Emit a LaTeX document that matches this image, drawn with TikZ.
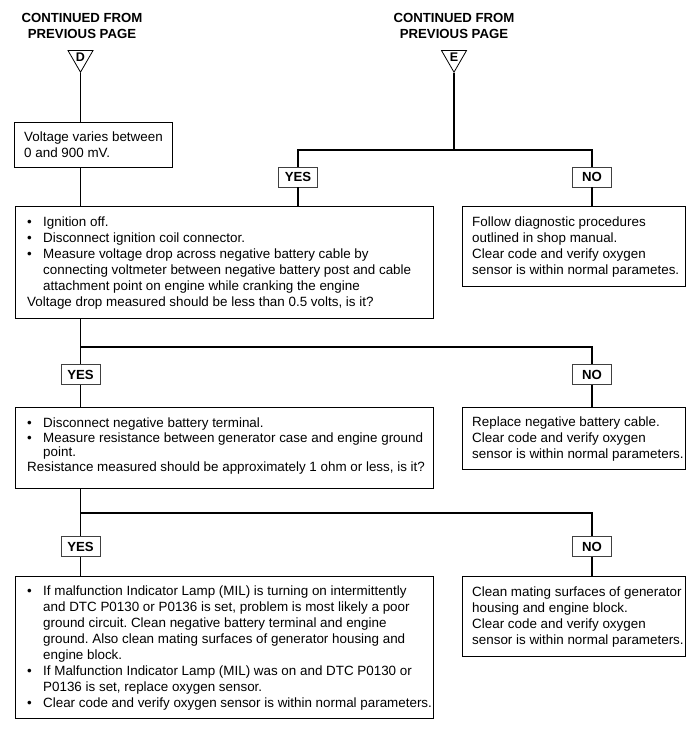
\documentclass[tikz,border=0pt]{standalone}
\usepackage{fontspec}
\setmainfont{Liberation Sans}
\usetikzlibrary{shapes.geometric}
\newcommand{\fcbul}{\makebox[16pt][l]{\textbullet}}
\newcommand{\fcind}{\hspace*{16pt}}
\frenchspacing
\begin{document}
\begin{tikzpicture}[x=1pt,y=-1pt,
  conn/.style={line width=1.2pt},
  box/.style={draw,line width=1.2pt,anchor=north west,inner sep=0pt},
  txt/.style={anchor=west,align=left,inner sep=0pt,font=\fontsize{13.4}{16}\selectfont},
  ttl/.style={align=center,inner sep=0pt,font=\fontsize{13.2}{16}\selectfont\bfseries},
  ans/.style={draw=black!75,line width=0.9pt,minimum width=39pt,minimum height=20pt,inner sep=0pt,font=\fontsize{13.2}{16}\selectfont\bfseries},
  tri/.style={draw,line width=0.8pt,regular polygon,regular polygon sides=3,shape border rotate=180,minimum size=29pt,inner sep=0pt,font=\fontsize{12.5}{13}\selectfont\bfseries}]
\path[use as bounding box] (0,0) rectangle (700,746);

% headers
\node[ttl] (hD) at (82,26) {CONTINUED FROM\\PREVIOUS PAGE};
\node[ttl] (hE) at (454,26) {CONTINUED FROM\\PREVIOUS PAGE};
\node[tri] (tD) at (80.5,57.7) {D};
\node[tri] (tE) at (454,57.7) {E};

% boxes
\node[box,minimum width=158pt,minimum height=45pt] (b1) at (14,122) {};
\node[txt] (t1) at ([xshift=10pt]b1.west) {Voltage varies between\\0 and 900 mV.};

\node[box,minimum width=418pt,minimum height=112pt] (b2) at (15,206) {};
\node[txt] (t2) at ([xshift=12pt]b2.west) {\fcbul Ignition off.\\
\fcbul Disconnect ignition coil connector.\\
\fcbul Measure voltage drop across negative battery cable by\\
\fcind connecting voltmeter between negative battery post and cable\\
\fcind attachment point on engine while cranking the engine\\
Voltage drop measured should be less than 0.5 volts, is it?};

\node[box,minimum width=223pt,minimum height=80pt] (b3) at (462,206) {};
\node[txt] (t3) at ([xshift=10pt]b3.west) {Follow diagnostic procedures\\
outlined in shop manual.\\
Clear code and verify oxygen\\
sensor is within normal parametes.};

\node[box,minimum width=418pt,minimum height=81pt] (b4) at (15,407) {};
\node[txt,font=\fontsize{13.4}{14.5}\selectfont] (t4) at ([xshift=12pt,yshift=2pt]b4.west) {\fcbul Disconnect negative battery terminal.\\
\fcbul Measure resistance between generator case and engine ground\\
\fcind point.\\
Resistance measured should be approximately 1 ohm or less, is it?};

\node[box,minimum width=223pt,minimum height=62pt] (b5) at (462,407) {};
\node[txt] (t5) at ([xshift=10pt]b5.west) {Replace negative battery cable.\\
Clear code and verify oxygen\\
sensor is within normal parameters.};

\node[box,minimum width=418pt,minimum height=142pt] (b6) at (15,576) {};
\node[txt] (t6) at ([xshift=12pt]b6.west) {\fcbul If malfunction Indicator Lamp (MIL) is turning on intermittently\\
\fcind and DTC P0130 or P0136 is set, problem is most likely a poor\\
\fcind ground circuit. Clean negative battery terminal and engine\\
\fcind ground. Also clean mating surfaces of generator housing and\\
\fcind engine block.\\
\fcbul If Malfunction Indicator Lamp (MIL) was on and DTC P0130 or\\
\fcind P0136 is set, replace oxygen sensor.\\
\fcbul Clear code and verify oxygen sensor is within normal parameters.};

\node[box,minimum width=223pt,minimum height=80pt] (b7) at (462,576) {};
\node[txt] (t7) at ([xshift=10pt]b7.west) {Clean mating surfaces of generator\\
housing and engine block.\\
Clear code and verify oxygen\\
sensor is within normal parameters.};

% answer boxes
\node[ans] (y1) at (298,177) {YES};
\node[ans] (n1) at (592,177) {NO};
\node[ans] (y2) at (80.5,374.5) {YES};
\node[ans] (n2) at (592,374.5) {NO};
\node[ans] (y3) at (80.5,546.5) {YES};
\node[ans] (n3) at (592,546.5) {NO};

\coordinate (j1) at (454,150);
\coordinate (j2) at (80.5,347);
\coordinate (j3) at (80.5,513);

% connectors
\draw[conn] (tD.corner 1) -- (tD.corner 1 |- b1.north);
\draw[conn] (b1.south -| tD.corner 1) -- (b2.north -| tD.corner 1);
\draw[conn] (tE.corner 1) -- (j1);
\draw[conn] (y1.north) -- (y1.north |- j1) -- (n1.north |- j1) -- (n1.north);
\draw[conn] (y1.south) -- (y1.south |- b2.north);
\draw[conn] (n1.south) -- (n1.south |- b3.north);

\draw[conn] (b2.south -| y2) -- (y2.north);
\draw[conn] (j2) -- (n2.north |- j2) -- (n2.north);
\draw[conn] (y2.south) -- (y2.south |- b4.north);
\draw[conn] (n2.south) -- (n2.south |- b5.north);

\draw[conn] (b4.south -| y3) -- (y3.north);
\draw[conn] (j3) -- (n3.north |- j3) -- (n3.north);
\draw[conn] (y3.south) -- (y3.south |- b6.north);
\draw[conn] (n3.south) -- (n3.south |- b7.north);
\end{tikzpicture}
\end{document}
